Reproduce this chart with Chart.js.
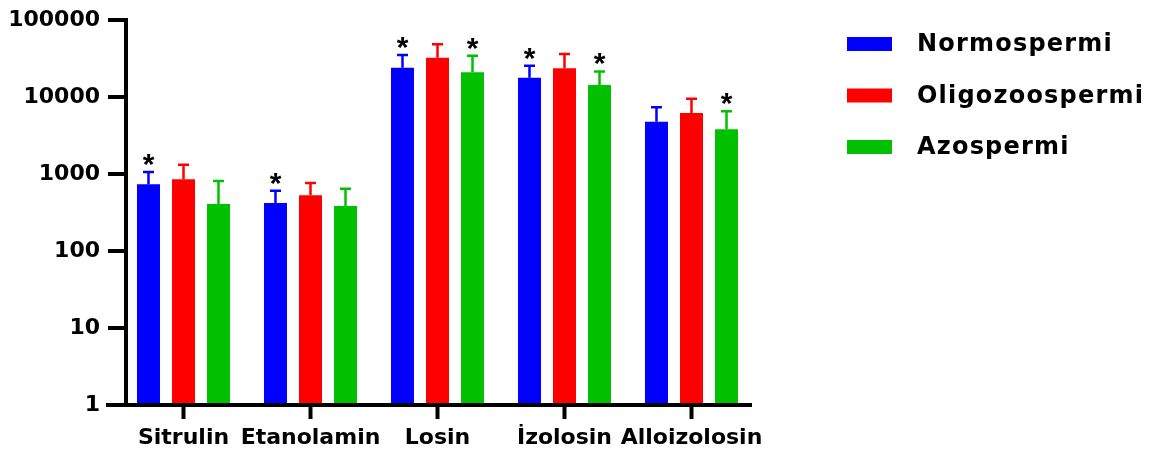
<!DOCTYPE html>
<html>
<head>
<meta charset="utf-8">
<script src="https://cdn.jsdelivr.net/npm/chart.js@4.4.1/dist/chart.umd.min.js"></script>
<style>
  html, body { margin: 0; padding: 0; background: #fff; }
  #wrap { width: 1160px; height: 454px; }
</style>
</head>
<body>
<div id="wrap"><canvas id="chart" width="1160" height="454"></canvas></div>
<script>
// data (log scale)
const categories = ['Sitrulin', 'Etanolamin', 'Losin', 'İzolosin', 'Alloizolosin'];
const seriesNames = ['Normospermi', 'Oligozoospermi', 'Azospermi'];
const seriesColors = ['#0000FF', '#FF0000', '#00C000'];

const normoMean = [735, 420, 24000, 17800, 4780];
const normoSD   = [325, 187, 11100, 7700, 2570];
const oligoMean = [853, 529, 32400, 23600, 6190];
const oligoSD   = [468, 235, 15900, 12600, 3320];
const azoMean   = [408, 384, 20900, 14300, 3800];
const azoSD     = [403, 260, 13500, 7200, 2720];

// significance marks (*)
const normoSig = [true, true, true, true, false];
const oligoSig = [false, false, false, false, false];
const azoSig   = [false, false, true, true, true];

const yTicks = [1, 10, 100, 1000, 10000, 100000];

const tickFont = { family: '"DejaVu Sans", sans-serif', size: 22, weight: 'bold' };

const means = [normoMean, oligoMean, azoMean];
const sds = [normoSD, oligoSD, azoSD];
const sigs = [normoSig, oligoSig, azoSig];

const datasets = seriesNames.map((name, i) => ({
  label: name,
  data: means[i],
  sd: sds[i],
  sig: sigs[i],
  backgroundColor: seriesColors[i],
  borderWidth: 0,
  barPercentage: 0.657,
  categoryPercentage: 0.827
}));

// axis lines drawn prism-style (detached y axis, x axis sticking out)
const axesPlugin = {
  id: 'axes',
  afterDatasetsDraw(chart) {
    const { ctx, chartArea, scales } = chart;
    const x = scales.x, y = scales.y;
    const axisX = chartArea.left + 6;
    ctx.save();
    ctx.strokeStyle = '#000';
    ctx.lineWidth = 4;
    ctx.lineCap = 'butt';
    ctx.beginPath();
    ctx.moveTo(axisX, chartArea.top - 2);
    ctx.lineTo(axisX, chartArea.bottom + 2);
    yTicks.forEach(v => {
      const py = y.getPixelForValue(v);
      ctx.moveTo(axisX - 18, py);
      ctx.lineTo(axisX, py);
    });
    ctx.stroke();
    ctx.beginPath();
    ctx.moveTo(chartArea.left - 14, chartArea.bottom);
    ctx.lineTo(chartArea.right - 3, chartArea.bottom);
    categories.forEach((c, i) => {
      const px = x.getPixelForValue(i);
      ctx.moveTo(px, chartArea.bottom);
      ctx.lineTo(px, chartArea.bottom + 14);
    });
    ctx.stroke();
    ctx.restore();
  }
};

const errorBarPlugin = {
  id: 'errorBars',
  afterDatasetsDraw(chart) {
    const { ctx, scales } = chart;
    ctx.save();
    chart.data.datasets.forEach((ds, di) => {
      const meta = chart.getDatasetMeta(di);
      meta.data.forEach((bar, i) => {
        const top = scales.y.getPixelForValue(ds.data[i] + ds.sd[i]);
        ctx.strokeStyle = ds.backgroundColor;
        ctx.lineWidth = 2.5;
        ctx.beginPath();
        ctx.moveTo(bar.x, bar.y);
        ctx.lineTo(bar.x, top);
        ctx.moveTo(bar.x - 5.5, top);
        ctx.lineTo(bar.x + 5.5, top);
        ctx.stroke();
        if (ds.sig[i]) {
          ctx.fillStyle = '#000';
          ctx.font = 'bold 30px "Liberation Sans", Arial, sans-serif';
          ctx.textAlign = 'center';
          ctx.textBaseline = 'alphabetic';
          ctx.fillText('*', bar.x, top + 2);
        }
      });
    });
    ctx.restore();
  }
};

const legendPlugin = {
  id: 'sideLegend',
  afterDraw(chart) {
    const { ctx } = chart;
    const left = chart.chartArea.right + 92;
    const top = 44;
    const step = 51.5;
    ctx.save();
    ctx.font = 'bold 24px "DejaVu Sans", sans-serif';
    ctx.letterSpacing = '1.2px';
    ctx.textBaseline = 'middle';
    ctx.textAlign = 'left';
    chart.data.datasets.forEach((ds, i) => {
      const cy = top + i * step;
      ctx.fillStyle = ds.backgroundColor;
      ctx.fillRect(left, cy - 7, 45, 14);
      ctx.fillStyle = '#000';
      ctx.fillText(ds.label, left + 70, cy + 1);
    });
    ctx.restore();
  }
};

new Chart(document.getElementById('chart'), {
  type: 'bar',
  data: { labels: categories, datasets: datasets },
  options: {
    responsive: false,
    animation: false,
    layout: { padding: { top: 20, right: 405, left: 0, bottom: 0 } },
    plugins: {
      legend: { display: false },
      tooltip: { enabled: false }
    },
    scales: {
      x: {
        type: 'category',
        offset: true,
        grid: { display: false, drawTicks: false },
        border: { display: false },
        ticks: { color: '#000', font: tickFont, padding: 20, maxRotation: 0, autoSkip: false },
        afterFit: (s) => { s.height = 49; }
      },
      y: {
        type: 'logarithmic',
        min: 1,
        max: 100000,
        grid: { display: false, drawTicks: false },
        border: { display: false },
        afterBuildTicks: (s) => { s.ticks = yTicks.map(v => ({ value: v })); },
        ticks: { color: '#000', font: tickFont, padding: 20, callback: (v) => String(v) },
        afterFit: (s) => { s.width = 120; s.paddingTop = 0; s.paddingBottom = 0; }
      }
    }
  },
  plugins: [axesPlugin, errorBarPlugin, legendPlugin]
});
</script>
</body>
</html>
